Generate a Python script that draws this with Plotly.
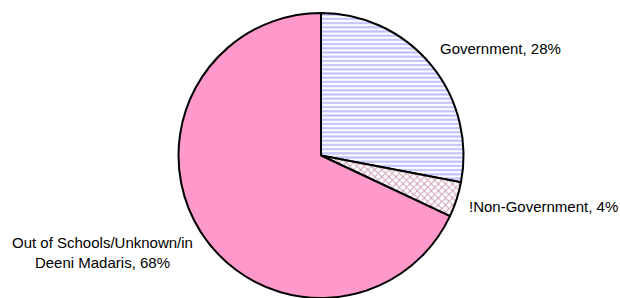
import plotly.graph_objects as go

categories = ["Government", "!Non-Government", "Out of Schools/Unknown/in Deeni Madaris"]
values = [28, 4, 68]
label_lines = [["Government, 28%"], ["!Non-Government, 4%"], ["Out of Schools/Unknown/in", "Deeni Madaris, 68%"]]

W, H = 620, 298
cx, top, bottom = 321, 13, 298
r = (bottom - top) / 2
FONT = "Liberation Sans, Arial, sans-serif"

fig = go.Figure(go.Pie(
    labels=categories,
    values=values,
    textinfo="none",
    sort=False,
    direction="clockwise",
    rotation=0,
    marker=dict(
        colors=["#ffffff", "#ffffff", "#FF99CC"],
        line=dict(color="#000000", width=2),
        pattern=dict(
            shape=["-", "x", ""],
            fgcolor=["#8080FF", "#993366", "#FF99CC"],
            bgcolor=["#ffffff", "#ffffff", "#FF99CC"],
            size=[4.2, 5, 8],
            solidity=[0.5, 0.35, 0.3],
            fillmode="overlay",
        ),
    ),
    domain=dict(x=[(cx - r) / W, (cx + r) / W], y=[0, 1 - top / H]),
    showlegend=False,
    hoverinfo="label+percent",
))

# label placement (pixel anchors in the 620x298 canvas)
label_pos = [(438, 48, "left"), (467, 206, "left"), (102, 252, "center")]
for lines, (px, py, anchor) in zip(label_lines, label_pos):
    fig.add_annotation(
        text="<br>".join(lines),
        x=px / W, y=1 - py / H, xref="paper", yref="paper",
        xanchor=anchor, yanchor="middle", align="center",
        showarrow=False,
        font=dict(family=FONT, size=15, color="#000000"),
    )

fig.update_layout(
    width=W, height=H,
    margin=dict(l=0, r=0, t=0, b=0),
    paper_bgcolor="#ffffff",
    plot_bgcolor="#ffffff",
    font=dict(family=FONT, size=15, color="#000000"),
)

fig.write_html(
    "out.html",
    config={"displayModeBar": False},
    post_script="document.body.style.margin='0';document.body.style.overflow='hidden';",
)
